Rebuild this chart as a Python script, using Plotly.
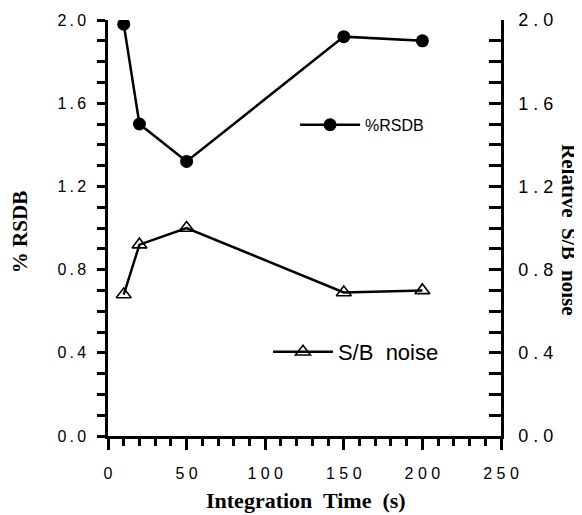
import plotly.graph_objects as go

time_s = [10, 20, 50, 150, 200]
rsdb = [1.98, 1.50, 1.32, 1.92, 1.90]
sb_noise = [0.68, 0.92, 1.00, 0.69, 0.70]

y_ticks = [0.0, 0.4, 0.8, 1.2, 1.6, 2.0]
y_ticklabels = ["0.0", "0.4", "0.8", "1.2", "1.6", "2.0"]
x_ticks = [0, 50, 100, 150, 200, 250]
x_ticklabels = ["0", "50", "100", "150", "200", "250"]

TS = "\u2009"  # thin space, mimics the letter-spaced tick lettering


def spaced(s, sep):
    return sep.join(list(s))


sans = "Liberation Sans, Arial, sans-serif"
serif = "Liberation Serif, Times New Roman, serif"
left_font = dict(family=sans, size=16, color="black")
right_font = dict(family=sans, size=18, color="black")
x_font = dict(family=sans, size=16, color="black")

fig = go.Figure()
fig.add_trace(go.Scatter(
    x=time_s, y=rsdb, name="%RSDB", mode="lines+markers",
    line=dict(color="black", width=2.5),
    marker=dict(symbol="circle", size=13, color="black"),
    legend="legend", showlegend=True,
))
fig.add_trace(go.Scatter(
    x=time_s, y=sb_noise, name="S/B  noise", mode="lines+markers",
    line=dict(color="black", width=2.5),
    marker=dict(symbol="triangle-up-open", size=13, color="black", line=dict(width=1.6)),
    legend="legend2", yaxis="y2", showlegend=True,
))

axis_common = dict(showgrid=False, zeroline=False, showline=True, linecolor="black",
                   linewidth=2.5, automargin=False)

fig.update_layout(
    width=574, height=507,
    margin=dict(l=100, r=81, t=12, b=79, autoexpand=False),
    paper_bgcolor="white", plot_bgcolor="white",
    showlegend=True,
    font=left_font,
    xaxis=dict(
        **axis_common, range=[0, 250], tickmode="array", tickvals=x_ticks,
        ticktext=[spaced(t, " ") for t in x_ticklabels],
        ticks="outside", ticklen=11, tickwidth=2.5, tickcolor="black", tickfont=x_font,
        minor=dict(dtick=10, ticks="outside", ticklen=7, tickwidth=2.5, tickcolor="black"),
        ticklabelstandoff=10,
    ),
    yaxis=dict(
        **axis_common, range=[0, 2.0], tickmode="array", tickvals=y_ticks,
        ticktext=[spaced(t, TS) for t in y_ticklabels],
        ticks="outside", ticklen=8, tickwidth=2.5, tickcolor="black", tickfont=left_font,
        minor=dict(dtick=0.1, ticks="outside", ticklen=8, tickwidth=2.5, tickcolor="black"),
        ticklabelstandoff=8,
    ),
    yaxis2=dict(
        **axis_common, overlaying="y", side="right", range=[0, 2.0], tickmode="array",
        tickvals=y_ticks, ticktext=[spaced(t, " ") for t in y_ticklabels],
        ticks="inside", ticklen=12, tickwidth=2.5, tickcolor="black", tickfont=right_font,
        minor=dict(dtick=0.1, ticks="inside", ticklen=12, tickwidth=2.5, tickcolor="black"),
        ticklabelstandoff=11,
    ),
    legend=dict(x=0.476, y=0.748, xanchor="left", yanchor="middle", bgcolor="rgba(0,0,0,0)",
                itemwidth=60, font=dict(family=sans, size=16, color="black")),
    legend2=dict(x=0.407, y=0.202, xanchor="left", yanchor="middle", bgcolor="rgba(0,0,0,0)",
                 itemwidth=60, font=dict(family=sans, size=22, color="black")),
    annotations=[
        dict(text="<b>Integration  Time  (s)</b>", x=0.504, y=-0.154, xref="paper", yref="paper",
             xanchor="center", yanchor="middle", showarrow=False,
             font=dict(family=serif, size=22, color="black")),
        dict(text="<b>% RSDB</b>", x=-0.224, y=0.49, xref="paper", yref="paper",
             xanchor="center", yanchor="middle", showarrow=False, textangle=-90,
             font=dict(family=serif, size=21, color="black")),
        dict(text="<b>Relative  S/B  noise</b>", x=1.173, y=0.495, xref="paper", yref="paper",
             xanchor="center", yanchor="middle", showarrow=False, textangle=90,
             font=dict(family=serif, size=21, color="black")),
    ],
)

fig.write_html("out.html")
